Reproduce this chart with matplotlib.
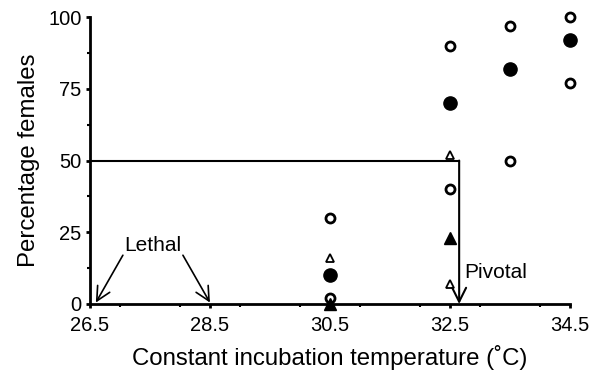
import matplotlib.pyplot as plt
from matplotlib.ticker import MultipleLocator

plt.rcParams['font.family'] = ['Liberation Sans', 'DejaVu Sans']

# incubation temperature (C) and percentage females, grouped by marker type
open_circle_t = [30.5, 30.5, 32.5, 32.5, 33.5, 33.5, 34.5, 34.5]
open_circle_f = [30, 2, 90, 40, 97, 50, 100, 77]
filled_circle_t = [30.5, 32.5, 33.5, 34.5]
filled_circle_f = [10, 70, 82, 92]
open_tri_t = [30.5, 32.5, 32.5]
open_tri_f = [16, 52, 7]
filled_tri_t = [30.5, 32.5]
filled_tri_f = [0, 23]

pivotal_t = 32.65
lethal_t = [26.6, 28.5]
xticks = [26.5, 28.5, 30.5, 32.5, 34.5]
yticks = [0, 25, 50, 75, 100]

fig = plt.figure(figsize=(5.99, 3.73), dpi=100)
ax = fig.add_axes([0.150, 0.185, 0.802, 0.769])

ax.plot(open_circle_t, open_circle_f, 'o', ms=6.5, mfc='white', mec='black', mew=2, clip_on=False, zorder=3)
ax.plot(filled_circle_t, filled_circle_f, 'o', ms=9.5, color='black', clip_on=False, zorder=3)
ax.plot(open_tri_t, open_tri_f, '^', ms=5.5, mfc='white', mec='black', mew=1.3, clip_on=False, zorder=3)
ax.plot(filled_tri_t, filled_tri_f, '^', ms=8, color='black', clip_on=False, zorder=3)

# 50% line and pivotal temperature
ax.plot([xticks[0], pivotal_t], [50, 50], color='black', lw=1.5, zorder=2)
ax.annotate('', xy=(pivotal_t, 0), xytext=(pivotal_t, 50),
            arrowprops=dict(arrowstyle='->', lw=1.5, mutation_scale=25, shrinkA=0, shrinkB=0))
ax.text(pivotal_t + 0.08, 11, 'Pivotal', fontsize=15, ha='left', va='center')

# lethal temperatures
ax.text(27.55, 20.5, 'Lethal', fontsize=15, ha='center', va='center')
ax.annotate('', xy=(lethal_t[0], 0.5), xytext=(27.05, 17),
            arrowprops=dict(arrowstyle='->', lw=1.2, mutation_scale=25, shrinkA=0, shrinkB=0))
ax.annotate('', xy=(lethal_t[1], 0.5), xytext=(28.05, 17),
            arrowprops=dict(arrowstyle='->', lw=1.2, mutation_scale=25, shrinkA=0, shrinkB=0))

ax.set_xlim(26.5, 34.5)
ax.set_ylim(0, 100)
ax.set_xticks(xticks)
ax.set_xticklabels([str(t) for t in xticks])
ax.set_yticks(yticks)
ax.xaxis.set_minor_locator(MultipleLocator(1))
ax.yaxis.set_minor_locator(MultipleLocator(12.5))
ax.tick_params(which='major', length=3, width=2, labelsize=14.5, direction='out')
ax.tick_params(axis='x', which='major', pad=6)
ax.tick_params(axis='y', which='major', pad=3)
ax.tick_params(which='minor', length=2, width=1.5, direction='out')

for s in ['top', 'right']:
    ax.spines[s].set_visible(False)
for s in ['left', 'bottom']:
    ax.spines[s].set_linewidth(2)

ax.set_xlabel('Constant incubation temperature (˚C)', fontsize=17.3, labelpad=7)
ax.set_ylabel('Percentage females', fontsize=17.3, labelpad=6)

fig.savefig('out.png', dpi=100)
